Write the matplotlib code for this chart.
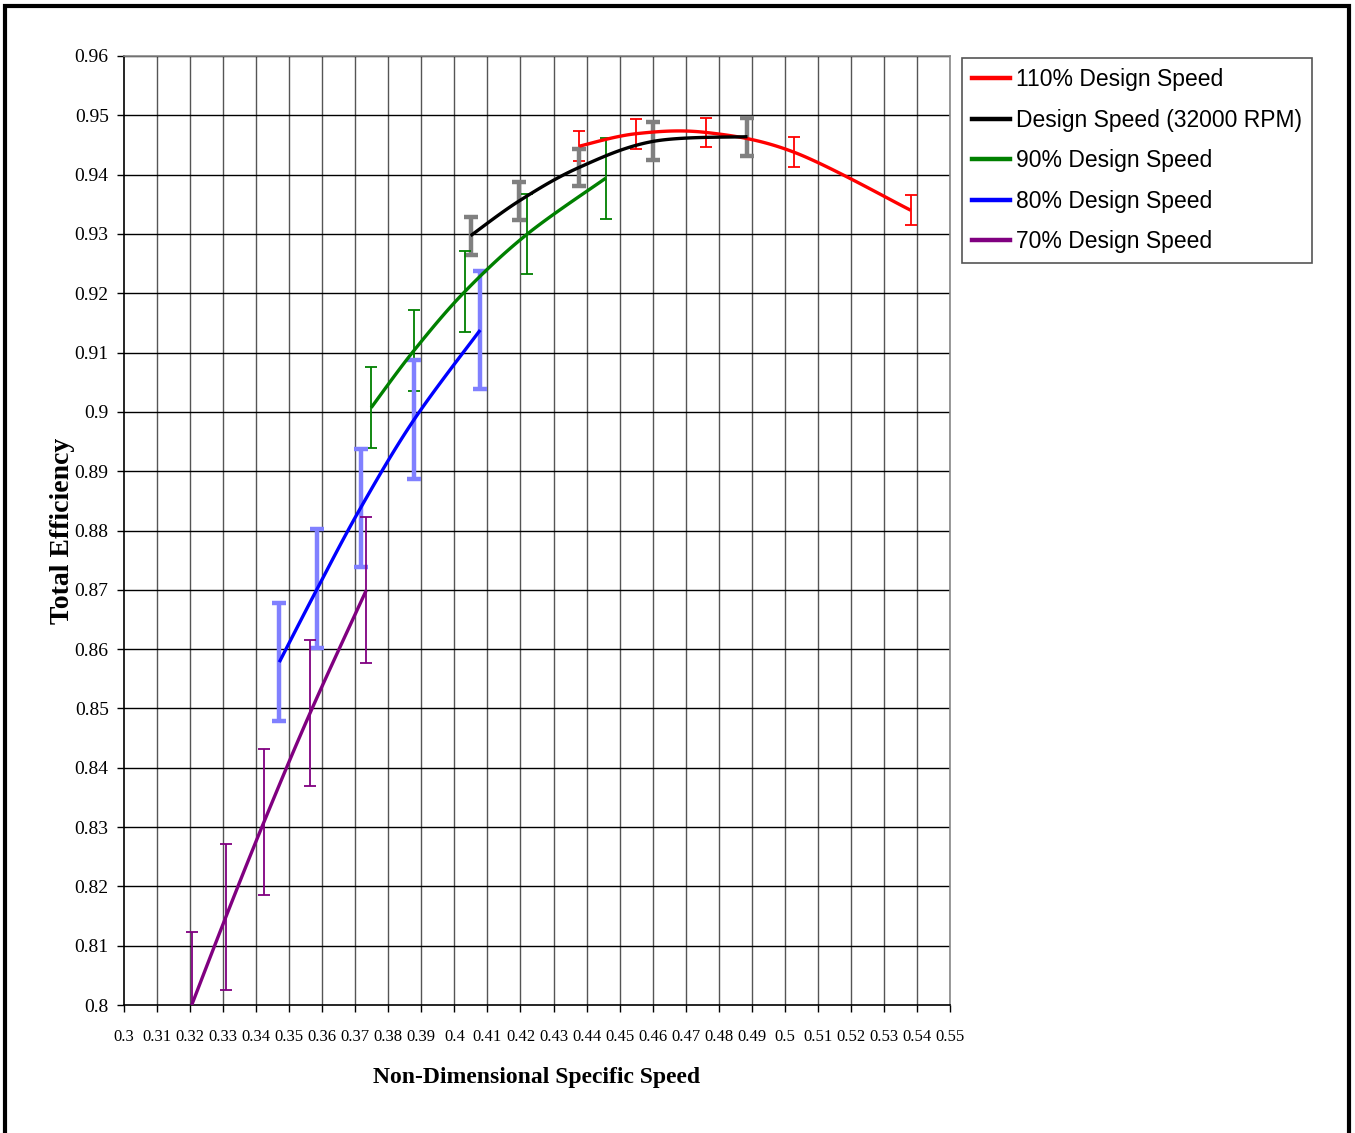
import numpy as np
import matplotlib
matplotlib.use("Agg")
import matplotlib.pyplot as plt
from matplotlib.lines import Line2D
from matplotlib.patches import Rectangle

# datos
x110 = [0.4378, 0.4550, 0.4763, 0.5027, 0.5381]
y110 = [0.9448, 0.9469, 0.9471, 0.9438, 0.9340]
e110 = 0.0025

x100 = [0.4049, 0.4197, 0.4377, 0.4601, 0.4887]
y100 = [0.9297, 0.9356, 0.9412, 0.9456, 0.9464]
e100 = 0.0032

x90 = [0.3748, 0.3877, 0.4032, 0.4221, 0.4458]
y90 = [0.9007, 0.9103, 0.9203, 0.9300, 0.9394]
e90 = 0.0068

x80 = [0.3470, 0.3585, 0.3716, 0.3878, 0.4078]
y80 = [0.8578, 0.8702, 0.8838, 0.8987, 0.9138]
e80 = 0.0100

x70 = [0.3205, 0.3308, 0.3424, 0.3563, 0.3733]
y70 = [0.8000, 0.8148, 0.8309, 0.8492, 0.8699]
e70 = 0.0123

etiquetas = ["110% Design Speed", "Design Speed (32000 RPM)", "90% Design Speed",
             "80% Design Speed", "70% Design Speed"]

xticks = np.round(np.arange(0.30, 0.5501, 0.01), 2)
yticks = np.round(np.arange(0.80, 0.9601, 0.01), 2)


def suavizar(xs, ys, n=30):
    # linea suavizada tipo Excel (Catmull-Rom)
    p = np.column_stack([xs, ys])
    p = np.vstack([p[0], p, p[-1]])
    out = []
    for i in range(1, len(p) - 2):
        p0, p1, p2, p3 = p[i - 1], p[i], p[i + 1], p[i + 2]
        c1 = p1 + (p2 - p0) / 6.0
        c2 = p2 - (p3 - p1) / 6.0
        t = np.linspace(0, 1, n)[:, None]
        b = ((1 - t) ** 3) * p1 + 3 * ((1 - t) ** 2) * t * c1 + 3 * (1 - t) * t ** 2 * c2 + t ** 3 * p2
        out.append(b if i == 1 else b[1:])
    out = np.vstack(out)
    return out[:, 0], out[:, 1]


fmt = lambda v: ("%.2f" % v).rstrip("0").rstrip(".") if v != 0 else "0"

fig = plt.figure(figsize=(13.55, 11.33), dpi=100)
ax = fig.add_axes([124 / 1355, 1 - 1005 / 1133, 826 / 1355, 949 / 1133])

series = [
    (x110, y110, e110, "#FF0000", "#FF0000", 1.3, 4.5),
    (x100, y100, e100, "black", "#808080", 3.2, 5.0),
    (x90, y90, e90, "#008000", "#008000", 1.3, 4.5),
    (x80, y80, e80, "#0000FF", "#8080FF", 3.2, 5.0),
    (x70, y70, e70, "#800080", "#800080", 1.3, 4.5),
]

for i, (xs, ys, err, col, ecol, elw, cap) in enumerate(series):
    ax.errorbar(xs, ys, yerr=err, fmt="none", ecolor=ecol, elinewidth=elw,
                capsize=cap, capthick=elw, zorder=3 + i * 0.1)
    sx, sy = suavizar(xs, ys)
    ax.plot(sx, sy, color=col, lw=2.4, zorder=4 + i * 0.1, solid_capstyle="butt")

ax.set_xlim(0.3, 0.55)
ax.set_ylim(0.8, 0.96)
ax.set_xticks(xticks)
ax.set_yticks(yticks)
ax.set_xticklabels([fmt(v) for v in xticks], family="Liberation Serif", fontsize=12)
ax.set_yticklabels([fmt(v) for v in yticks], family="Liberation Serif", fontsize=14)
ax.tick_params(axis="both", direction="out", length=5, width=1, color="black")
ax.tick_params(axis="x", pad=12)
ax.tick_params(axis="y", pad=6)

for v in xticks[1:]:
    ax.axvline(v, color="#555555", lw=1, zorder=1)
for v in yticks[1:]:
    ax.axhline(v, color="black", lw=1, zorder=1)

ax.spines["left"].set_color("black")
ax.spines["bottom"].set_color("black")
ax.spines["top"].set_color("#888888")
ax.spines["right"].set_color("#888888")
for s in ax.spines.values():
    s.set_linewidth(1.2)

ax.set_xlabel("Non-Dimensional Specific Speed", family="Liberation Serif",
              fontweight="bold", fontsize=17, labelpad=16)
ax.set_ylabel("Total Efficiency", family="Liberation Serif",
              fontweight="bold", fontsize=20, labelpad=0)

handles = [Line2D([], [], color=s[3], lw=3.2) for s in series]
leg = fig.legend(handles, etiquetas, loc="upper left",
                 bbox_to_anchor=(962 / 1355, 1 - 58 / 1133),
                 prop={"family": "Liberation Sans", "size": 16.5},
                 frameon=True, fancybox=False, shadow=False, framealpha=1,
                 borderaxespad=0, handlelength=1.65, handletextpad=0.26,
                 labelspacing=0.76, borderpad=0.45)
leg.get_frame().set_edgecolor("#555555")
leg.get_frame().set_linewidth(1.2)

# marco exterior
fig.add_artist(Rectangle((5 / 1355, -0.02), 1344 / 1355, 1.02 - 6 / 1133,
                         transform=fig.transFigure, fill=False,
                         edgecolor="black", lw=3))

fig.savefig("out.png", dpi=100)
